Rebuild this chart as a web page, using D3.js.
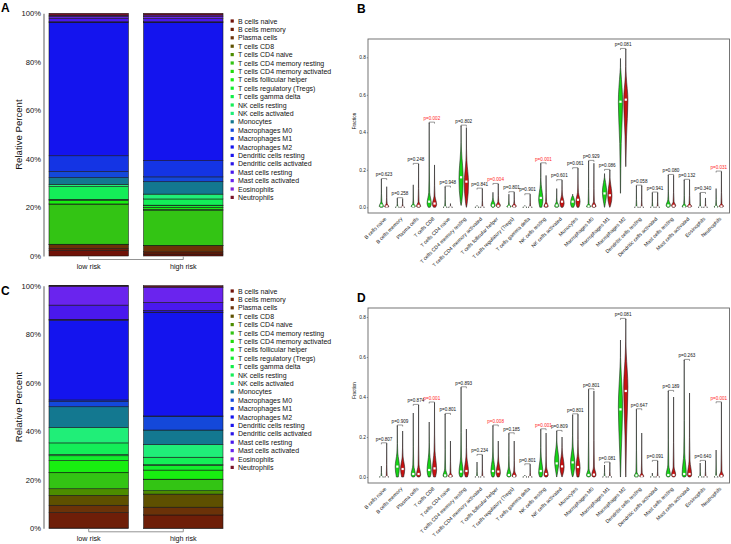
<!DOCTYPE html>
<html><head><meta charset="utf-8">
<script src="https://cdn.jsdelivr.net/npm/d3@7"></script>
<style>body{margin:0;background:#fff}svg{display:block;font-family:"Liberation Sans",Arial,Helvetica,sans-serif}</style>
</head><body><svg id="c" width="731" height="544"></svg>
<script>
const cellTypes = ["B cells naive","B cells memory","Plasma cells","T cells CD8","T cells CD4 naive","T cells CD4 memory resting","T cells CD4 memory activated","T cells follicular helper","T cells regulatory (Tregs)","T cells gamma delta","NK cells resting","NK cells activated","Monocytes","Macrophages M0","Macrophages M1","Macrophages M2","Dendritic cells resting","Dendritic cells activated","Mast cells resting","Mast cells activated","Eosinophils","Neutrophils"];
const cellColors = ["#701208","#6E1E08","#6B3208","#5E5000","#4C8C00","#33C414","#22DC0C","#18EE10","#12EE2C","#10EE48","#14EE58","#20EE78","#137890","#1448DA","#1434E4","#1414EE","#1C14EE","#2A14E8","#4A18EE","#6A24EE","#8224D8","#7A1428"];
const groups = ["low risk","high risk"];
const pctTicks = [0,20,40,60,80,100];
const fracTicks = [0,0.2,0.4,0.6,0.8];

// Relative percent (stacked bars)
const stackA_low  = [2.2,0.8,1.7,0.1,0.05,16.55,0.05,1.45,0.4,0.05,5.25,0.9,2.8,2.5,6.5,55.0,0.1,0.1,1.5,0.8,0.4,0.8];
const stackA_high = [0.8,0.9,2.6,0.05,0.05,14.3,0.5,0.8,0.9,0.05,2.55,2.0,5.1,2.0,6.7,57.0,0.1,0.1,1.3,0.9,0.6,0.7];
const stackC_low  = [0.1,6.4,3.0,4.1,2.7,6.6,0.05,4.95,2.0,0.5,4.8,6.3,8.6,2.1,0.7,32.7,0.5,0.05,5.85,7.6,0.3,0.1];
const stackC_high = [0.05,5.45,3.2,5.4,1.4,4.7,0.05,3.75,1.9,0.3,3.1,5.2,6.0,5.7,0.1,42.6,0.2,0.7,3.3,6.1,0.3,0.5];

// Violin summaries: [min, bodyLow, peak, bodyHigh, max, median]
const violinB_low = [[0,0,0.005,0.03,0.15,0.01],[0,0,0,0.005,0.048,0],[0,0,0.005,0.02,0.12,0.005],[0,0,0.02,0.08,0.451,0.03],[0,0,0,0.005,0.11,0],[0.01,0.03,0.15,0.3,0.435,0.16],[0,0,0,0.003,0.01,0],[0,0,0.01,0.04,0.08,0.01],[0,0,0.003,0.015,0.07,0.003],[0,0,0,0.003,0.01,0],[0,0,0.04,0.12,0.234,0.05],[0,0,0.005,0.03,0.1,0.01],[0,0,0.02,0.06,0.07,0.03],[0,0,0.003,0.02,0.247,0.005],[0,0.02,0.08,0.15,0.18,0.074],[0.075,0.34,0.56,0.72,0.794,0.563],[0,0,0,0.003,0.115,0],[0,0,0,0.003,0.078,0],[0,0,0.01,0.04,0.172,0.01],[0,0,0.003,0.02,0.146,0.003],[0,0,0,0.002,0.076,0],[0,0,0.002,0.01,0.1,0.002]];
const violinB_high = [[0,0,0.003,0.02,0.11,0.005],[0,0,0,0.005,0.045,0],[0,0,0.005,0.03,0.231,0.008],[0,0,0.015,0.06,0.226,0.02],[0,0,0,0.003,0.02,0],[0,0.02,0.13,0.25,0.425,0.137],[0,0,0,0.003,0.099,0],[0,0,0.01,0.03,0.124,0.008],[0,0,0.005,0.02,0.08,0.005],[0,0,0,0.003,0.069,0],[0,0,0.005,0.03,0.17,0.01],[0,0,0.02,0.066,0.144,0.03],[0,0,0.03,0.08,0.208,0.04],[0,0,0.005,0.03,0.235,0.008],[0,0.01,0.06,0.14,0.199,0.064],[0.217,0.38,0.57,0.7,0.844,0.574],[0,0,0,0.003,0.115,0],[0,0,0,0.003,0.078,0],[0,0,0.008,0.03,0.17,0.008],[0,0,0.005,0.02,0.146,0.005],[0,0,0,0.002,0.05,0],[0,0,0.005,0.02,0.19,0.005]];
const violinD_low = [[0,0,0,0.004,0.055,0],[0,0,0.05,0.12,0.257,0.052],[0,0,0.01,0.06,0.32,0.015],[0,0,0.03,0.12,0.275,0.035],[0,0,0.005,0.04,0.315,0.008],[0,0,0.02,0.1,0.448,0.027],[0,0,0,0.003,0.075,0],[0,0,0.025,0.1,0.257,0.03],[0,0,0.008,0.05,0.218,0.01],[0,0,0,0.002,0.01,0],[0,0,0.02,0.1,0.238,0.03],[0,0.02,0.08,0.16,0.23,0.068],[0,0.01,0.07,0.15,0.31,0.073],[0,0,0.008,0.04,0.438,0.01],[0,0,0,0.003,0.06,0],[0,0.12,0.35,0.55,0.685,0.338],[0,0,0.005,0.025,0.338,0.008],[0,0,0,0.002,0.02,0],[0,0,0.01,0.06,0.43,0.01],[0,0,0.01,0.12,0.585,0.015],[0,0,0,0.002,0.07,0],[0,0,0,0.004,0.135,0.002]];
const violinD_high = [[0,0,0,0.005,0.168,0],[0,0,0.04,0.1,0.23,0.04],[0,0,0.01,0.06,0.36,0.015],[0,0,0.035,0.13,0.372,0.043],[0,0,0.003,0.02,0.18,0.005],[0,0,0.025,0.1,0.24,0.03],[0,0,0,0.003,0.11,0],[0,0,0.02,0.08,0.18,0.027],[0,0,0.004,0.03,0.18,0.005],[0,0,0,0.002,0.063,0],[0,0,0.01,0.05,0.22,0.015],[0,0.01,0.05,0.12,0.2,0.053],[0,0,0.045,0.12,0.313,0.05],[0,0,0.01,0.05,0.43,0.012],[0,0,0,0.003,0.072,0],[0,0.2,0.45,0.62,0.79,0.43],[0,0,0.003,0.02,0.22,0.003],[0,0,0,0.002,0.08,0],[0,0,0.01,0.05,0.4,0.01],[0,0,0.01,0.08,0.42,0.015],[0,0,0,0.002,0.08,0],[0,0,0.005,0.03,0.373,0.005]];

const pB = ["p=0.623","p=0.258","p=0.248","p=0.002","p=0.948","p=0.802","p=0.841","p=0.004","p=0.801","p=0.901","p=0.001","p=0.601","p=0.061","p=0.929","p=0.086","p=0.081","p=0.058","p=0.941","p=0.080","p=0.132","p=0.340","p=0.031"];
const pB_red = [3,7,10,21];
const pD = ["p=0.807","p=0.909","p=0.874","p=0.001","p=0.801","p=0.893","p=0.234","p=0.008","p=0.185","p=0.801","p=0.001","p=0.809","p=0.801","p=0.801","p=0.081","p=0.081","p=0.647","p=0.091","p=0.189","p=0.263","p=0.640","p=0.001"];
const pD_red = [3,7,10,21];

const svg = d3.select("#c");

function drawStack(top, bottom, lowVals, highVals, letter, letterY, legendY0) {
  const g = svg.append("g");
  const y = d3.scaleLinear([0,100],[bottom, top]);
  const x = d3.scaleBand(groups,[49,223]).paddingInner(0.16).paddingOuter(0);
  [lowVals, highVals].forEach((vals, gi) => {
    const tot = d3.sum(vals); let cum = 0;
    const segs = vals.map((v,i) => { const a = cum/tot*100; cum += v; return {i, a, b: cum/tot*100}; });
    g.selectAll(null).data(segs).join("rect")
      .attr("x", x(groups[gi])).attr("width", x.bandwidth())
      .attr("y", d => y(d.b)).attr("height", d => y(d.a) - y(d.b))
      .attr("fill", d => cellColors[d.i]).attr("stroke", "#151515").attr("stroke-width", 0.55);
  });
  const ax = g.append("g").attr("transform","translate(43.5,0)")
    .call(d3.axisLeft(y).tickValues(pctTicks).tickFormat(d => d + "%").tickSize(0).tickSizeOuter(0).tickPadding(2.5));
  ax.select(".domain").attr("stroke","#9a9a9a").attr("stroke-width",1.6);
  ax.selectAll("text").attr("font-size",7.6).attr("fill","#111");
  g.append("text").attr("transform",`translate(18.5,${(top+bottom)/2}) rotate(-90)`)
    .attr("text-anchor","middle").attr("dy","0.35em").attr("font-size",9.6).attr("fill","#111").text("Relative Percent");
  const cx0 = x(groups[0]) + x.bandwidth()/2, cx1 = x(groups[1]) + x.bandwidth()/2;
  g.append("path").attr("d",`M${cx0},${bottom+0.5}V${bottom+3.5}H${cx1}V${bottom+0.5}`)
    .attr("fill","none").attr("stroke","#888").attr("stroke-width",0.9);
  g.selectAll(null).data(groups).join("text")
    .attr("x", d => x(d) + x.bandwidth()/2).attr("y", bottom + 13)
    .attr("text-anchor","middle").attr("font-size",7.2).attr("fill","#111").text(d => d);
  g.append("text").attr("x",1).attr("y",letterY).attr("font-size",12).attr("font-weight","bold").text(letter);
  const lg = g.append("g");
  cellTypes.forEach((t,i) => {
    const yy = legendY0 + i*8.4;
    lg.append("rect").attr("x",230.6).attr("y",yy-1.6).attr("width",3.2).attr("height",3.2).attr("fill",cellColors[i]);
    lg.append("text").attr("x",238).attr("y",yy+2.5).attr("font-size",7).attr("fill","#111").text(t);
  });
}

function profile(v) {
  const [mn, lo, pk, hi, mx] = v;
  const pts = [];
  if (pk <= mn) pts.push([mn, 1]);
  else {
    pts.push([mn, lo > mn ? 0.04 : 0.45]);
    if (lo > mn && lo < pk) pts.push([lo, 0.35]);
    pts.push([pk, 1]);
  }
  if (hi > pts[pts.length-1][0]) pts.push([hi, 0.22]);
  if (mx > pts[pts.length-1][0]) {
    const last = pts[pts.length-1][0];
    pts.push([last + (mx-last)*0.35, 0.06]);
    pts.push([mx, 0]);
  }
  return pts;
}

function drawViolin(top, bottom, yDom, low, high, pLab, pRed, letter, letterY) {
  const g = svg.append("g");
  const x = d3.scaleLinear([-2.52, 65.52],[368, 729.5]);
  const y = d3.scaleLinear(yDom, [bottom, top]);
  const hw = x(0.4) - x(0);
  g.append("rect").attr("x",368).attr("y",top).attr("width",729.5-368).attr("height",bottom-top)
    .attr("fill","none").attr("stroke","#666").attr("stroke-width",0.9);
  const ax = g.append("g").attr("transform","translate(368,0)")
    .call(d3.axisLeft(y).tickValues(fracTicks).tickFormat(d3.format(".1f")).tickSize(1.2).tickSizeOuter(0).tickPadding(1));
  ax.select(".domain").remove();
  ax.selectAll("line").attr("stroke","#555").attr("stroke-width",0.6);
  ax.selectAll("text").attr("font-size",4.8).attr("fill","#222");
  g.append("text").attr("transform",`translate(354.5,${(top+bottom)/2 - 5}) rotate(-90)`)
    .attr("text-anchor","middle").attr("dy","0.35em").attr("font-size",4.6).attr("fill","#111").text("Fraction");
  const area = d3.area().curve(d3.curveMonotoneY);
  [[low,"#16D616"],[high,"#C81212"]].forEach(([arr,col], gi) => {
    arr.forEach((v,i) => {
      const cx = x(3*i + gi);
      const pts = profile(v);
      area.y(d => y(d[0])).x0(d => cx - d[1]*hw).x1(d => cx + d[1]*hw);
      g.append("path").attr("d", area(pts)).attr("fill", col).attr("stroke","#1a1a1a").attr("stroke-width",0.55);
      g.append("rect").attr("x",cx-1.1).attr("y",y(v[5])-1.1).attr("width",2.2).attr("height",2.2).attr("fill","#fff");
    });
  });
  cellTypes.forEach((t,i) => {
    const mx = Math.max(low[i][4], high[i][4]);
    const x0 = x(3*i), x1 = x(3*i+1), ym = y(mx) - 0.6;
    g.append("path").attr("d",`M${x0},${ym+1.5}V${ym}H${x1}V${ym+1.5}`).attr("fill","none").attr("stroke","#333").attr("stroke-width",0.5);
    g.append("text").attr("x", x(3*i+0.5)).attr("y", ym - 2.3).attr("text-anchor","middle")
      .attr("font-size",4.6).attr("fill", pRed.includes(i) ? "#FF1E1E" : "#111").text(pLab[i]);
    g.append("text").attr("transform",`translate(${x(3*i+0.5)+1.5},${bottom+5}) rotate(-45)`)
      .attr("text-anchor","end").attr("dy","0.35em").attr("font-size",5.1).attr("fill","#111").text(t);
  });
  g.append("text").attr("x",357).attr("y",letterY).attr("font-size",12).attr("font-weight","bold").text(letter);
}

drawStack(13.3, 256, stackA_low, stackA_high, "A", 12, 21);
drawStack(285.7, 528.3, stackC_low, stackC_high, "C", 295, 291);
drawViolin(39, 213, [-0.0304, 0.8976], violinB_low, violinB_high, pB, pB_red, "B", 13);
drawViolin(308, 483, [-0.03, 0.845], violinD_low, violinD_high, pD, pD_red, "D", 302);
</script></body></html>
